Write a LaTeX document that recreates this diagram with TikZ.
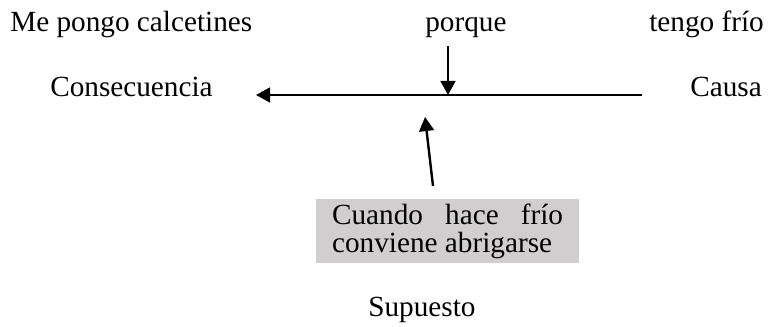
\documentclass[tikz,border=0pt]{standalone}
\usepackage{fontspec}
\setmainfont{Liberation Serif}
\usetikzlibrary{arrows.meta}
\definecolor{boxgray}{RGB}{208,206,206}
\begin{document}
\begin{tikzpicture}[>={Triangle[length=10pt,width=10.5pt]},
  every node/.style={font=\fontsize{20.8}{19.8}\selectfont, inner sep=0pt},
  lbl/.style={anchor=base west},
  regla/.style={fill=boxgray, text width=5.775cm, align=justify,
    inner xsep=0.4cm, inner ysep=0pt, minimum height=1.6cm}]
  \useasboundingbox (0,0) rectangle (19.2,8.175);

  \coordinate (D) at (16.05,5.8);
  \coordinate (I) at (6.4,5.8);
  \coordinate (P) at (11.2,7.025);
  \coordinate (X) at (11.2,5.8);
  \coordinate (S) at (10.825,3.525);
  \coordinate (T) at (10.625,5.25);

  \node[lbl] (efecto) at (0.25,7.375) {Me pongo calcetines};
  \node[lbl] (nexo) at (10.625,7.375) {porque};
  \node[lbl] (motivo) at (16.225,7.375) {tengo frío};
  \node[lbl] (consec) at (1.25,5.75) {Consecuencia};
  \node[lbl] (causa) at (17.25,5.75) {Causa};

  \draw[->, line width=1.7pt] (D) -- (I);
  \draw[->, line width=1.7pt] (P) -- (X);
  \draw[->, line width=1.7pt] (S) -- (T);

  \node[regla] (premisa) at (11.19,2.4) {Cuando hace frío conviene abrigarse};
  \node[lbl] (supuesto) at (9.2,0.25) {Supuesto};
\end{tikzpicture}
\end{document}
